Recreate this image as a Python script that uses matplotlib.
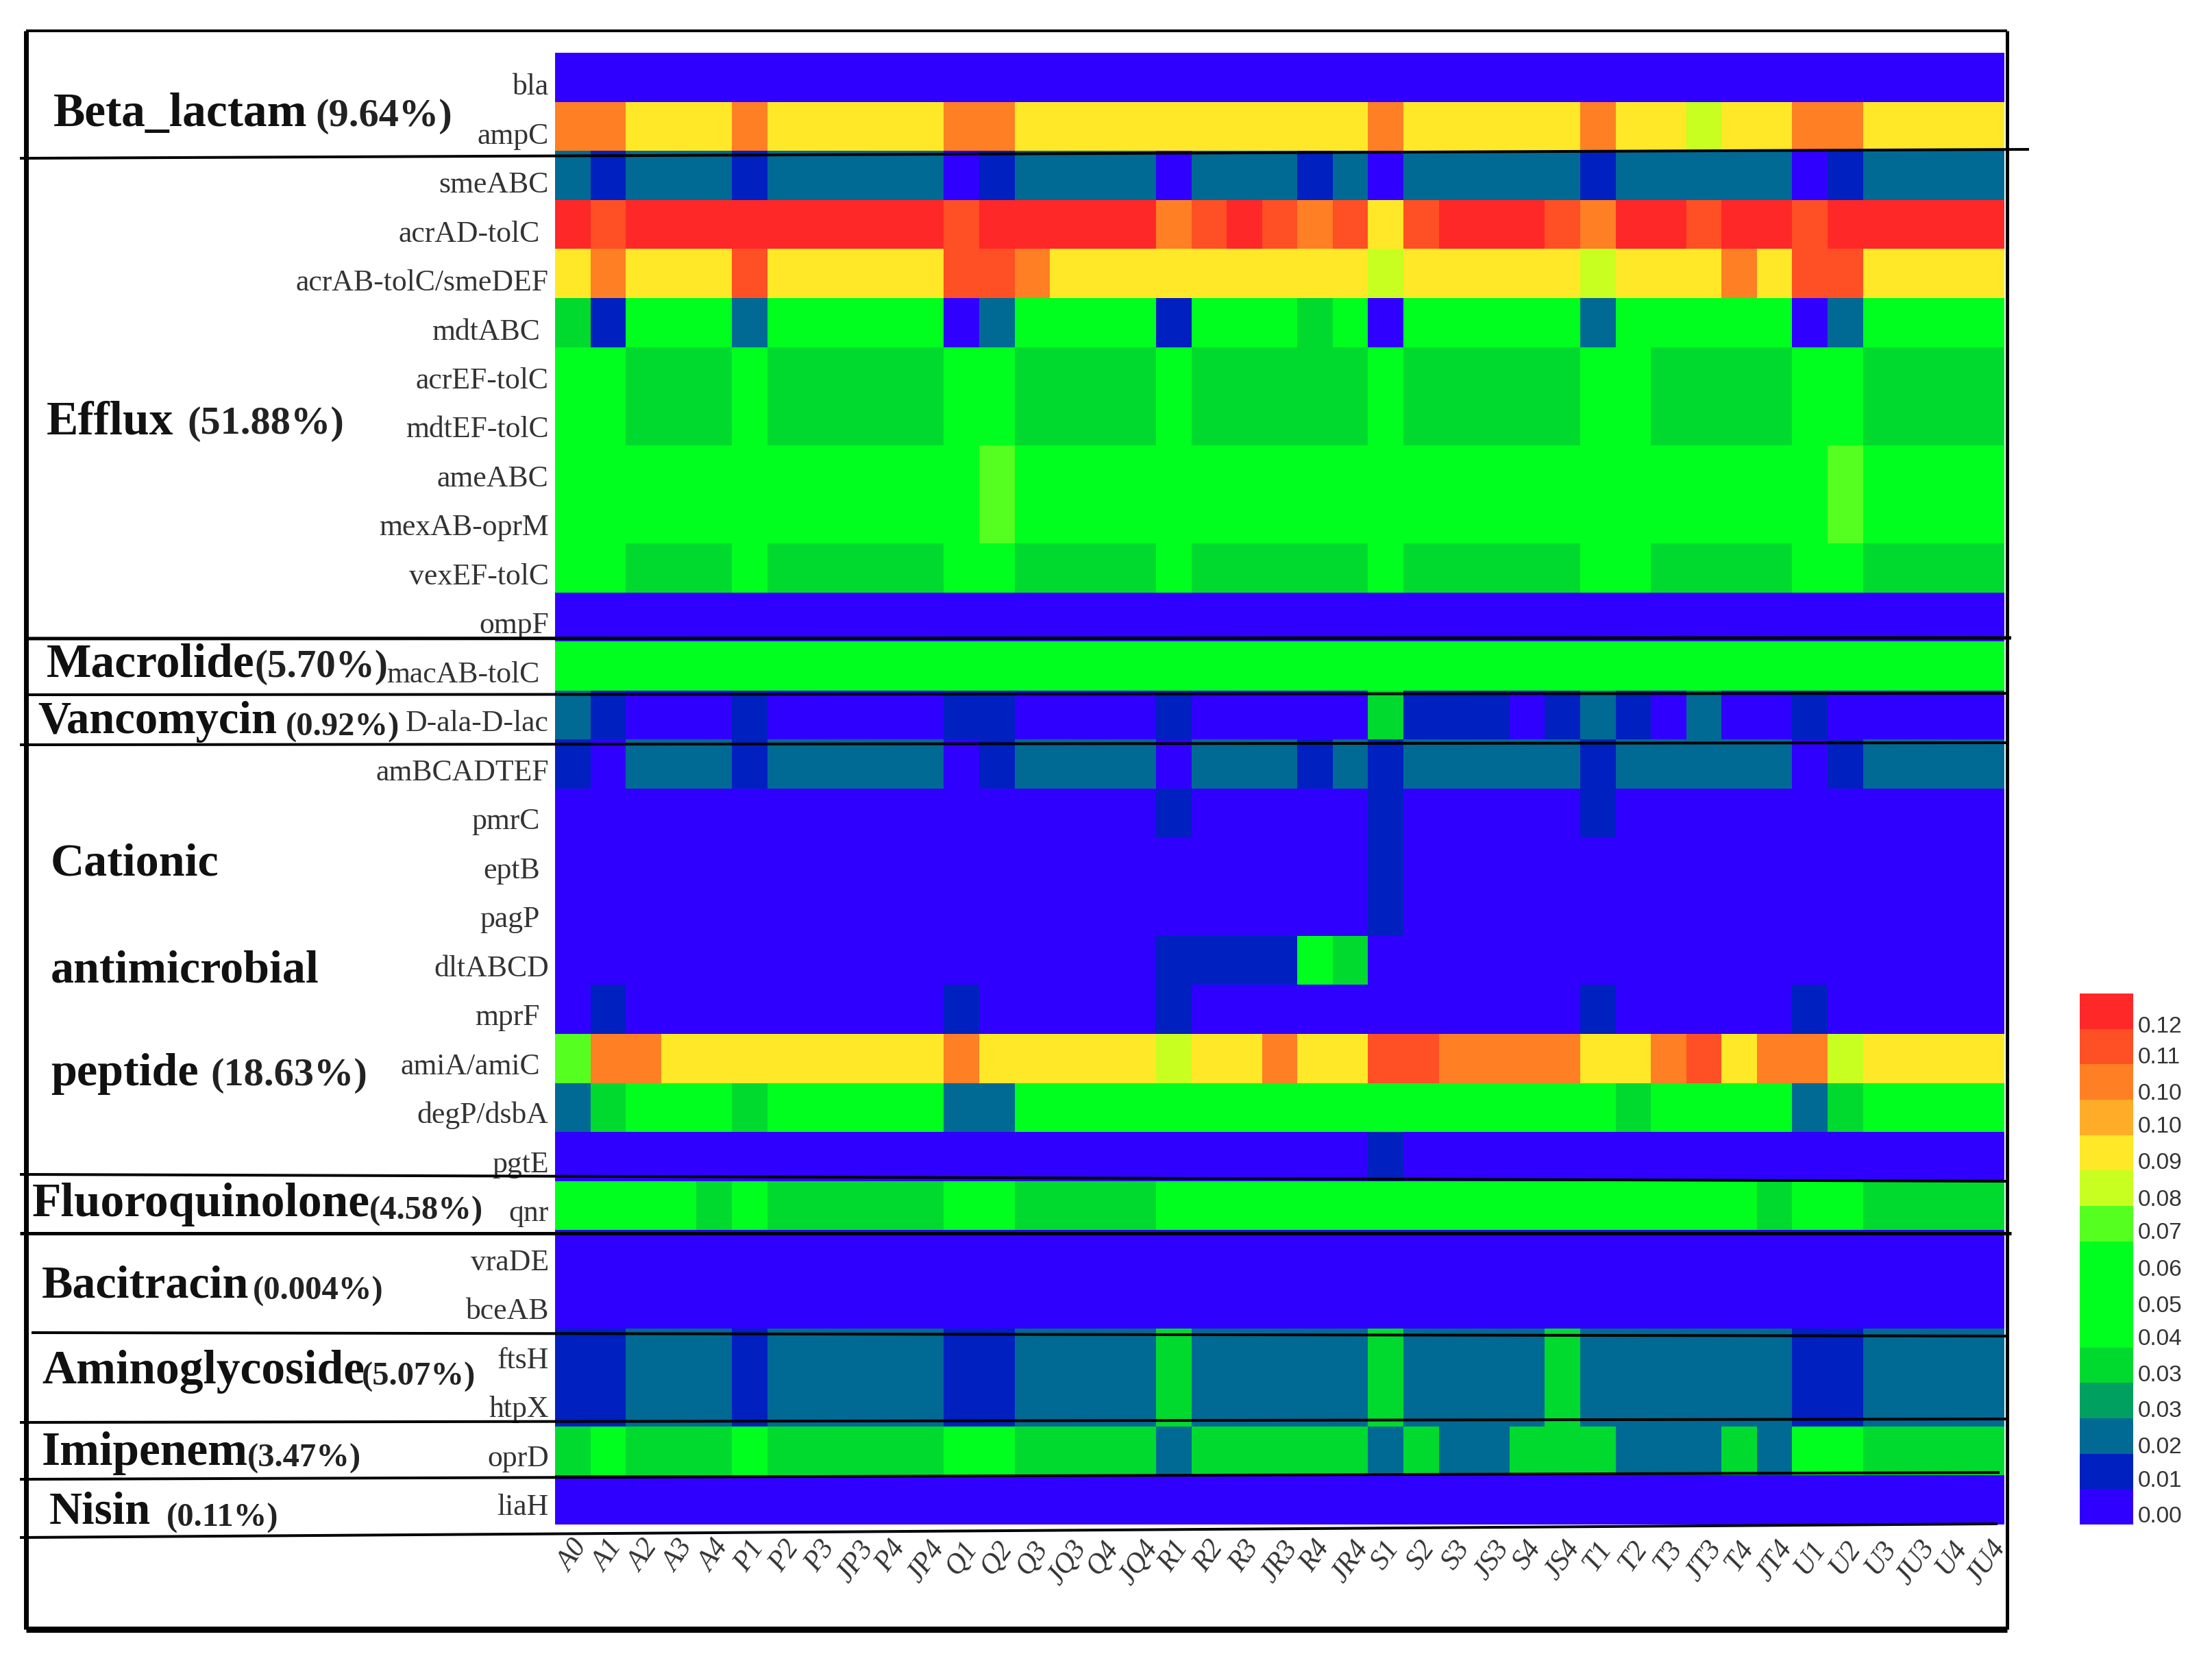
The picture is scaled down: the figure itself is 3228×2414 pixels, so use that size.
# ARG heatmap by sample, grouped by resistance mechanism

import numpy as np
import matplotlib.pyplot as plt
from matplotlib.colors import ListedColormap, BoundaryNorm
from matplotlib.lines import Line2D

W, H = 3228, 2414

samples = ["A0", "A1", "A2", "A3", "A4", "P1", "P2", "P3", "JP3", "P4", "JP4",
           "Q1", "Q2", "Q3", "JQ3", "Q4", "JQ4", "R1", "R2", "R3", "JR3", "R4", "JR4",
           "S1", "S2", "S3", "JS3", "S4", "JS4", "T1", "T2", "T3", "JT3", "T4", "JT4",
           "U1", "U2", "U3", "JU3", "U4", "JU4"]

genes = ["bla", "ampC", "smeABC", "acrAD-tolC", "acrAB-tolC/smeDEF", "mdtABC", "acrEF-tolC",
         "mdtEF-tolC", "ameABC", "mexAB-oprM", "vexEF-tolC", "ompF", "macAB-tolC", "D-ala-D-lac",
         "amBCADTEF", "pmrC", "eptB", "pagP", "dltABCD", "mprF", "amiA/amiC", "degP/dsbA", "pgtE",
         "qnr", "vraDE", "bceAB", "ftsH", "htpX", "oprD", "liaH"]

# values, in units of 0.001
zeros = [0, 0, 0, 0, 0, 0, 0, 0, 0, 0, 0, 0, 0, 0, 0, 0, 0, 0, 0, 0, 0, 0, 0, 0, 0, 0, 0, 0, 0, 0, 0, 0, 0, 0, 0, 0, 0, 0, 0, 0, 0]
bla = zeros
ampC = [104, 104, 87, 87, 87, 104, 87, 87, 87, 87, 87, 104, 104, 87, 87, 87, 87, 87, 87, 87, 87, 87, 87, 104, 87, 87, 87, 87, 87, 104, 87, 87, 78, 87, 87, 104, 104, 87, 87, 87, 87]
smeABC = [17, 9, 17, 17, 17, 9, 17, 17, 17, 17, 17, 0, 9, 17, 17, 17, 17, 0, 17, 17, 17, 9, 17, 0, 17, 17, 17, 17, 17, 9, 17, 17, 17, 17, 17, 0, 9, 17, 17, 17, 17]
acrAD = [122, 113, 122, 122, 122, 122, 122, 122, 122, 122, 122, 113, 122, 122, 122, 122, 122, 104, 113, 122, 113, 104, 113, 87, 113, 122, 122, 122, 113, 104, 122, 122, 113, 122, 122, 113, 122, 122, 122, 122, 122]
acrAB = [87, 104, 87, 87, 87, 113, 87, 87, 87, 87, 87, 113, 113, 104, 87, 87, 87, 87, 87, 87, 87, 87, 87, 78, 87, 87, 87, 87, 87, 78, 87, 87, 87, 104, 87, 113, 113, 87, 87, 87, 87]
mdtABC = [35, 9, 44, 44, 44, 17, 44, 44, 44, 44, 44, 0, 17, 44, 44, 44, 44, 9, 44, 44, 44, 35, 44, 0, 44, 44, 44, 44, 44, 17, 44, 44, 44, 44, 44, 0, 17, 44, 44, 44, 44]
acrEF = [44, 44, 35, 35, 35, 44, 35, 35, 35, 35, 35, 44, 44, 35, 35, 35, 35, 44, 35, 35, 35, 35, 35, 44, 35, 35, 35, 35, 35, 44, 44, 35, 35, 35, 35, 44, 44, 35, 35, 35, 35]
mdtEF = acrEF
ameABC = [44, 44, 44, 44, 44, 44, 44, 44, 44, 44, 44, 44, 70, 44, 44, 44, 44, 44, 44, 44, 44, 44, 44, 44, 44, 44, 44, 44, 44, 44, 44, 44, 44, 44, 44, 44, 70, 44, 44, 44, 44]
mexAB = ameABC
vexEF = acrEF
ompF = zeros
macAB = [44, 44, 44, 44, 44, 44, 44, 44, 44, 44, 44, 44, 44, 44, 44, 44, 44, 44, 44, 44, 44, 44, 44, 44, 44, 44, 44, 44, 44, 44, 44, 44, 44, 44, 44, 44, 44, 44, 44, 44, 44]
dala = [17, 9, 0, 0, 0, 9, 0, 0, 0, 0, 0, 9, 9, 0, 0, 0, 0, 9, 0, 0, 0, 0, 0, 35, 9, 9, 9, 0, 9, 17, 9, 0, 17, 0, 0, 9, 0, 0, 0, 0, 0]
amBC = [9, 0, 17, 17, 17, 9, 17, 17, 17, 17, 17, 0, 9, 17, 17, 17, 17, 0, 17, 17, 17, 9, 17, 9, 17, 17, 17, 17, 17, 9, 17, 17, 17, 17, 17, 0, 9, 17, 17, 17, 17]
pmrC = [0, 0, 0, 0, 0, 0, 0, 0, 0, 0, 0, 0, 0, 0, 0, 0, 0, 9, 0, 0, 0, 0, 0, 9, 0, 0, 0, 0, 0, 9, 0, 0, 0, 0, 0, 0, 0, 0, 0, 0, 0]
eptB = [0, 0, 0, 0, 0, 0, 0, 0, 0, 0, 0, 0, 0, 0, 0, 0, 0, 0, 0, 0, 0, 0, 0, 9, 0, 0, 0, 0, 0, 0, 0, 0, 0, 0, 0, 0, 0, 0, 0, 0, 0]
pagP = eptB
dlt = [0, 0, 0, 0, 0, 0, 0, 0, 0, 0, 0, 0, 0, 0, 0, 0, 0, 9, 9, 9, 9, 44, 35, 0, 0, 0, 0, 0, 0, 0, 0, 0, 0, 0, 0, 0, 0, 0, 0, 0, 0]
mprF = [0, 9, 0, 0, 0, 0, 0, 0, 0, 0, 0, 9, 0, 0, 0, 0, 0, 9, 0, 0, 0, 0, 0, 0, 0, 0, 0, 0, 0, 9, 0, 0, 0, 0, 0, 9, 0, 0, 0, 0, 0]
amiA = [70, 104, 104, 87, 87, 87, 87, 87, 87, 87, 87, 104, 87, 87, 87, 87, 87, 78, 87, 87, 104, 87, 87, 113, 113, 104, 104, 104, 104, 87, 87, 104, 113, 87, 104, 104, 78, 87, 87, 87, 87]
degP = [17, 35, 44, 44, 44, 35, 44, 44, 44, 44, 44, 17, 17, 44, 44, 44, 44, 44, 44, 44, 44, 44, 44, 44, 44, 44, 44, 44, 44, 44, 35, 44, 44, 44, 44, 17, 35, 44, 44, 44, 44]
pgtE = eptB
qnr = [44, 44, 44, 44, 35, 44, 35, 35, 35, 35, 35, 44, 44, 35, 35, 35, 35, 44, 44, 44, 44, 44, 44, 44, 44, 44, 44, 44, 44, 44, 44, 44, 44, 44, 35, 44, 44, 35, 35, 35, 35]
vraDE = zeros
bceAB = zeros
ftsH = [9, 9, 17, 17, 17, 9, 17, 17, 17, 17, 17, 9, 9, 17, 17, 17, 17, 35, 17, 17, 17, 17, 17, 35, 17, 17, 17, 17, 35, 17, 17, 17, 17, 17, 17, 9, 9, 17, 17, 17, 17]
htpX = ftsH
oprD = [35, 44, 35, 35, 35, 44, 35, 35, 35, 35, 35, 44, 44, 35, 35, 35, 35, 17, 35, 35, 35, 35, 35, 17, 35, 17, 17, 35, 35, 35, 17, 17, 17, 35, 17, 44, 44, 35, 35, 35, 35]
liaH = zeros

rows = [bla, ampC, smeABC, acrAD, acrAB, mdtABC, acrEF, mdtEF, ameABC, mexAB, vexEF, ompF, macAB, dala,
        amBC, pmrC, eptB, pagP, dlt, mprF, amiA, degP, pgtE, qnr, vraDE, bceAB, ftsH, htpX, oprD, liaH]

# legend steps
legend_values = [0, 9, 17, 26, 35, 44, 52, 61, 70, 78, 87, 96, 104, 113, 122]
legend_labels = ["0.00", "0.01", "0.02", "0.03", "0.03", "0.04", "0.05", "0.06", "0.07", "0.08",
                 "0.09", "0.10", "0.10", "0.11", "0.12"]
legend_colors = ["#3000FF", "#0020C0", "#006A94", "#00A060", "#00DA2E", "#00FF1E", "#00FF1E", "#00FF1E",
                 "#55FF20", "#C8FF20", "#FFE828", "#FFAC28", "#FF7F24", "#FF4F24", "#FF2828"]

group_names = ["Beta_lactam", "Efflux", "Macrolide", "Vancomycin", "Cationic", "antimicrobial", "peptide",
               "Fluoroquinolone", "Bacitracin", "Aminoglycoside", "Imipenem", "Nisin"]
group_pcts = ["(9.64%)", "(51.88%)", "(5.70%)", "(0.92%)", "", "", "(18.63%)", "(4.58%)", "(0.004%)",
              "(5.07%)", "(3.47%)", "(0.11%)"]

# where each group text sits, in image pixels
name_x = [78, 68, 68, 55, 74, 74, 74, 47, 61, 61, 61, 72]
name_y = [184, 633, 988, 1070, 1278, 1433, 1584, 1775, 1894, 2019, 2138, 2224]
name_size = [50, 50, 50, 48, 49, 49, 49, 50, 49, 50, 50, 48]
pct_x = [460, 273, 371, 417, 0, 0, 307, 539, 369, 528, 361, 243]
pct_y = [184, 633, 988, 1074, 0, 0, 1584, 1780, 1897, 2022, 2141, 2228]
pct_size = [42, 42, 41, 35, 0, 0, 42, 35, 35, 35, 35, 35]

# genes whose label stops short of the others
short_labels = ["acrAD-tolC", "mdtABC", "macAB-tolC", "pmrC", "eptB", "pagP", "mprF", "amiA/amiC"]

# black rules drawn over the figure: x0, y0, x1, y1, width in pixels
rules = [(29, 231, 2961, 218, 4), (38, 932, 2935, 931, 5), (38, 1014, 2929, 1012, 4),
         (29, 1087, 2929, 1084, 4), (29, 1714, 2929, 1724, 4), (29, 1800, 2935, 1800, 5),
         (46, 1945, 2929, 1950, 4), (29, 2076, 2929, 2071, 4), (29, 2159, 2918, 2149, 4),
         (29, 2244, 2915, 2224, 4)]
frame = [(38, 45, 2929, 45, 4), (38, 45, 38, 2378, 7), (2929, 45, 2929, 2378, 5), (38, 2378, 2929, 2378, 9)]

plt.rcParams["font.family"] = ["Liberation Serif", "DejaVu Serif"]


def fx(x):
    return x / W


def fy(y):
    return 1 - y / H


def px_rect(x0, y0, x1, y1):
    return [fx(x0), fy(y1), (x1 - x0) / W, (y1 - y0) / H]


fig = plt.figure(figsize=(W / 100, H / 100), dpi=100)
ax = fig.add_axes(px_rect(810, 77, 2925, 2225))

matrix = np.array(rows) / 1000
steps = np.array(legend_values) / 1000
bounds = np.concatenate([[-0.005], (steps[:-1] + steps[1:]) / 2, [0.13]])
cmap = ListedColormap(legend_colors)
norm = BoundaryNorm(bounds, cmap.N)

mesh = ax.pcolormesh(np.arange(len(samples) + 1), np.arange(len(genes) + 1), matrix, cmap=cmap, norm=norm)
ax.set_xlim(0, len(samples))
ax.set_ylim(len(genes), 0)
for s in ax.spines.values():
    s.set_visible(False)
ax.set_yticks([])
ax.set_xticks(np.arange(len(samples)) + 0.5)
ax.set_xticklabels(samples, rotation=55, ha="center", va="top", fontsize=30, style="italic", color="#333333")
ax.tick_params(axis="x", length=0, pad=12)

# gene labels drift a little below the row centres near the top
for i, g in enumerate(genes):
    x = -0.43 if g in short_labels else -0.18
    ax.text(x, i + 0.65 + 0.05 * (1 - i / len(genes)), g, ha="right", va="center", fontsize=31.5, color="#333333")

for i, name in enumerate(group_names):
    fig.text(fx(name_x[i]), fy(name_y[i]), name, fontsize=name_size[i], fontweight="bold", color="#111111",
             ha="left", va="baseline")
    if group_pcts[i]:
        fig.text(fx(pct_x[i]), fy(pct_y[i]), group_pcts[i], fontsize=pct_size[i], fontweight="bold",
                 color="#222222", ha="left", va="baseline")

for x0, y0, x1, y1, lw in rules + frame:
    fig.add_artist(Line2D([fx(x0), fx(x1)], [fy(y0), fy(y1)], color="black", lw=lw * 0.72, solid_capstyle="butt"))

cax = fig.add_axes(px_rect(3035, 1450, 3113, 2225))
cbar = fig.colorbar(mesh, cax=cax, spacing="uniform", drawedges=False)
cbar.outline.set_visible(False)
cbar.set_ticks(steps)
cbar.set_ticklabels(legend_labels)
cax.tick_params(axis="y", length=0, pad=5)
cax.minorticks_off()
for lab in cax.get_yticklabels():
    lab.set_fontfamily(["Liberation Sans", "DejaVu Sans"])
    lab.set_fontsize(24)
    lab.set_color("#333333")
    lab.set_va("top")

plt.savefig("out.png", dpi=100)
